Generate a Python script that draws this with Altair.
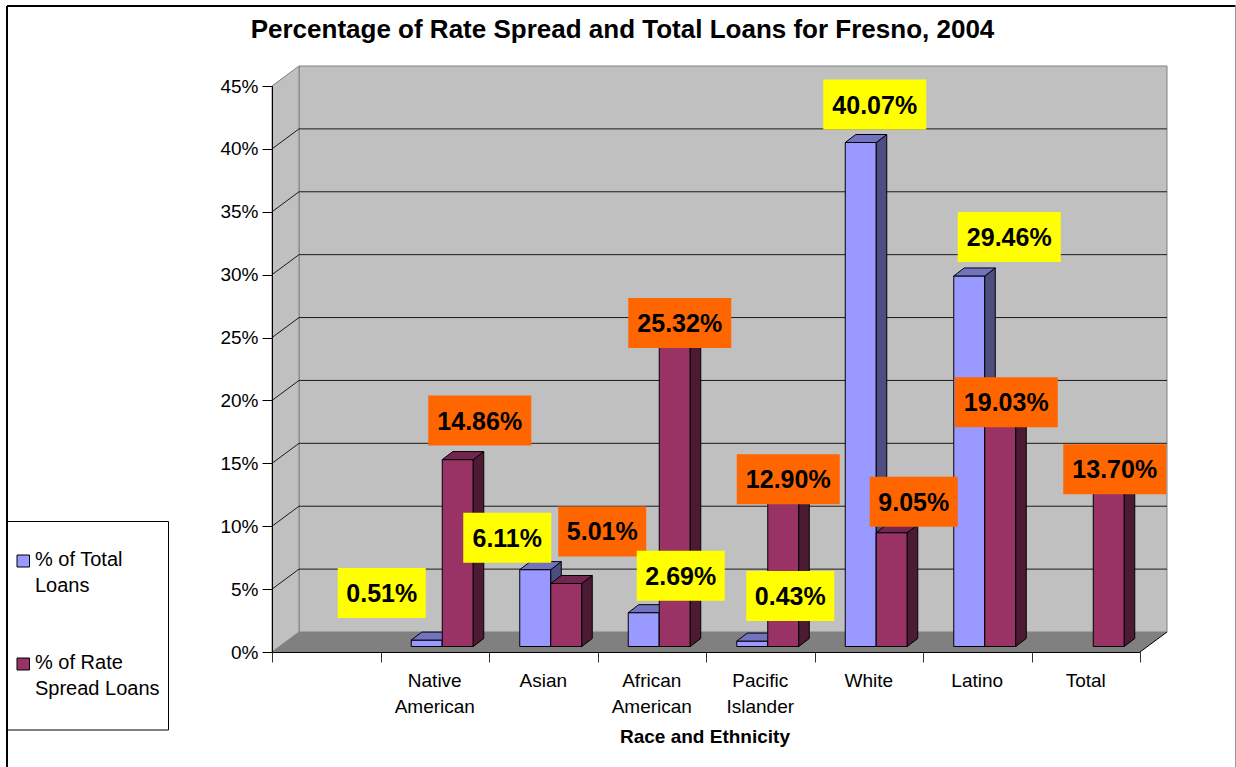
import altair as alt
import pandas as pd

# ---------------- data ----------------
categories = ["", "Native American", "Asian", "African American",
              "Pacific Islander", "White", "Latino", "Total"]
series_names = ["% of Total\nLoans", "% of Rate\nSpread Loans"]
total_loans = [None, 0.51, 6.11, 2.69, 0.43, 40.07, 29.46, None]
rate_spread = [None, 14.86, 5.01, 25.32, 12.90, 9.05, 19.03, 13.70]
y_ticks = [0, 5, 10, 15, 20, 25, 30, 35, 40, 45]
title_text = "Percentage of Rate Spread and Total Loans for Fresno, 2004"
x_title = "Race and Ethnicity"

# ---------------- styles / geometry ----------------
FONT = "Liberation Sans"
W, H = 868, 566
YMAX = 45
NCAT = len(categories)
U = W / NCAT        # px per category unit
PY = H / YMAX       # px per percent


def ux(px):
    return px / U


def uy(px):
    return px / PY


WALL_DX, WALL_DY = ux(27), uy(20)
BAR_W = 1 / 3.5
GAP = 0.75 * BAR_W
SHIFT_X, SHIFT_Y = ux(7.5), uy(5.5)
DEP_X, DEP_Y = ux(10.5), uy(8)

front_cols = ["#9999FF", "#993366"]
side_cols = ["#4D4D80", "#4D1A33"]
top_cols = ["#7373BF", "#732650"]
box_cols = ["#FFFF00", "#FF6600"]

# label centre offset (px) from bar top-front centre
label_nudge = [
    [None, (-45, -47), (-28, -32), (37, -37), (38, -45), (14, -38), (40, -39), None],
    [None, (22, -39), (36, -52), (5, -5), (5, -5), (22, -31), (6, -5), (6, -5)],
]

# ---------------- derived tables ----------------
bar_rows, side_rows, top_rows, lab_rows = [], [], [], []
for s, vals in enumerate([total_loans, rate_spread]):
    for i, v in enumerate(vals):
        if v is None:
            continue
        key = f"{s}-{i}"
        xl = i + GAP + s * BAR_W + SHIFT_X
        xr = xl + BAR_W
        yb = SHIFT_Y
        yt = v + SHIFT_Y
        bar_rows.append(dict(s=s, key=key, xl=xl, xr=xr, yb=yb, yt=yt))
        side_rows.append(dict(s=s, key=key, x=xr, lo=yb, hi=yt))
        side_rows.append(dict(s=s, key=key, x=xr + DEP_X, lo=yb + DEP_Y, hi=yt + DEP_Y))
        top_rows.append(dict(s=s, key=key, y=yt, x1=xl, x2=xr))
        top_rows.append(dict(s=s, key=key, y=yt + DEP_Y, x1=xl + DEP_X, x2=xr + DEP_X))
        dx, dy = label_nudge[s][i]
        lx = (xl + xr) / 2 + ux(dx)
        ly = yt - uy(dy)
        hw = 51.5 if v >= 10 else 44
        lab_rows.append(dict(s=s, text=f"{v:.2f}%", lx=lx, ly=ly,
                             bx1=lx - ux(hw), bx2=lx + ux(hw),
                             by1=ly - uy(25), by2=ly + uy(25)))
bars = pd.DataFrame(bar_rows)
sides = pd.DataFrame(side_rows)
tops = pd.DataFrame(top_rows)
labs = pd.DataFrame(lab_rows)

xs = alt.Scale(domain=[0, NCAT], nice=False, zero=False)
ys = alt.Scale(domain=[0, YMAX], nice=False, zero=False)

AX_X = alt.Axis(values=list(range(NCAT + 1)), labels=False, tickSize=10,
                domainColor="black", tickColor="#333333", grid=False,
                title=None, zindex=1, domainWidth=1)
AX_Y = alt.Axis(values=y_ticks, tickSize=10, labelExpr="datum.value + '%'",
                labelFont=FONT, labelFontSize=19, labelColor="black", labelPadding=4,
                domainColor="black", tickColor="black", grid=False, title=None, zindex=1)


def X(f):
    return alt.X(f, type="quantitative", scale=xs, axis=AX_X, stack=None)


def Y(f):
    return alt.Y(f, type="quantitative", scale=ys, axis=AX_Y, stack=None)


layers = []

# back wall
wall = pd.DataFrame([dict(x1=WALL_DX, x2=NCAT + WALL_DX, y1=WALL_DY, y2=YMAX + WALL_DY)])
layers.append(alt.Chart(wall).mark_rect(fill="#C0C0C0", stroke="#808080", strokeWidth=1)
              .encode(x=X("x1"), x2="x2", y=Y("y1"), y2="y2"))

# left wall
lw = pd.DataFrame([dict(x=0.0, lo=0.0, hi=YMAX), dict(x=WALL_DX, lo=WALL_DY, hi=YMAX + WALL_DY)])
layers.append(alt.Chart(lw).mark_area(orient="vertical", fill="#C0C0C0", stroke="#808080",
                                      strokeWidth=1)
              .encode(x=X("x"), y=Y("lo"), y2="hi"))

# grid lines on back wall and left wall
grid = pd.DataFrame([dict(t=t, tb=t + WALL_DY, xa=0.0, xb=WALL_DX, xc=NCAT + WALL_DX)
                     for t in y_ticks[1:-1]])
layers.append(alt.Chart(grid).mark_rule(color="#1a1a1a", strokeWidth=1)
              .encode(x=X("xb"), x2="xc", y=Y("tb"), y2="tb"))
layers.append(alt.Chart(grid).mark_rule(color="#1a1a1a", strokeWidth=1)
              .encode(x=X("xa"), x2="xb", y=Y("t"), y2="tb"))

# floor
fl = pd.DataFrame([dict(y=0.0, x1=0.0, x2=float(NCAT)),
                   dict(y=WALL_DY, x1=WALL_DX, x2=NCAT + WALL_DX)])
layers.append(alt.Chart(fl).mark_area(orient="horizontal", fill="#808080", strokeWidth=0)
              .encode(y=Y("y"), x=X("x1"), x2="x2"))
fr = pd.DataFrame([dict(x1=float(NCAT), x2=NCAT + WALL_DX, y1=0.0, y2=WALL_DY)])
layers.append(alt.Chart(fr).mark_rule(color="black", strokeWidth=1)
              .encode(x=X("x1"), x2="x2", y=Y("y1"), y2="y2"))

# bars: per series front, side, top
for s in [0, 1]:
    layers.append(alt.Chart(bars[bars.s == s]).mark_rect(fill=front_cols[s], stroke="black",
                                                        strokeWidth=1)
                  .encode(x=X("xl"), x2="xr", y=Y("yb"), y2="yt"))
    layers.append(alt.Chart(sides[sides.s == s]).mark_area(orient="vertical", fill=side_cols[s],
                                                          stroke="black", strokeWidth=1)
                  .encode(x=X("x"), y=Y("lo"), y2="hi", detail="key:N"))
    layers.append(alt.Chart(tops[tops.s == s]).mark_area(orient="horizontal", fill=top_cols[s],
                                                        stroke="black", strokeWidth=1)
                  .encode(y=Y("y"), x=X("x1"), x2="x2", detail="key:N"))

# data labels (orange first, yellow on top)
for s in [1, 0]:
    d = labs[labs.s == s]
    layers.append(alt.Chart(d).mark_rect(fill=box_cols[s], strokeWidth=0)
                  .encode(x=X("bx1"), x2="bx2", y=Y("by1"), y2="by2"))
    layers.append(alt.Chart(d).mark_text(font=FONT, fontSize=25, fontWeight="bold",
                                         color="black", align="center", baseline="middle", dy=1)
                  .encode(x=X("lx"), y=Y("ly"), text="text:N"))

# category labels
cats = pd.DataFrame({"name": categories, "c": [i + 0.5 for i in range(NCAT)]})
layers.append(alt.Chart(cats).mark_text(font=FONT, fontSize=19, color="black", align="center",
                                        baseline="alphabetic", lineBreak=" ", lineHeight=26)
              .encode(x=X("c"), y=alt.value(600.5), text="name:N"))

# axis title & chart title
layers.append(alt.Chart(pd.DataFrame({"t": [x_title]})).mark_text(
    font=FONT, fontSize=19, fontWeight="bold", color="black", align="center", baseline="alphabetic")
    .encode(x=alt.value(433), y=alt.value(656.5), text="t:N"))
layers.append(alt.Chart(pd.DataFrame({"t": [title_text]})).mark_text(
    font=FONT, fontSize=26, fontWeight="bold", color="black", align="center", baseline="alphabetic")
    .encode(x=alt.value(350.5), y=alt.value(-48.5), text="t:N"))

# legend
one = pd.DataFrame({"a": [0]})
layers.append(alt.Chart(one).mark_rect(fill="white", stroke="black", strokeWidth=1)
              .encode(x=alt.value(-264.5), x2=alt.value(-103.5), y=alt.value(435.5), y2=alt.value(644)))
for s, (sq_y, txt_y) in enumerate([(469, 480), (572, 583)]):
    layers.append(alt.Chart(one).mark_rect(fill=front_cols[s], stroke="black", strokeWidth=1)
                  .encode(x=alt.value(-255), x2=alt.value(-242.5), y=alt.value(sq_y),
                          y2=alt.value(sq_y + 12)))
    layers.append(alt.Chart(pd.DataFrame({"t": [series_names[s]]})).mark_text(
        font=FONT, fontSize=20, color="black", align="left", baseline="alphabetic",
        lineBreak="\n", lineHeight=26)
        .encode(x=alt.value(-237), y=alt.value(txt_y), text="t:N"))

# outer frame
layers.append(alt.Chart(one).mark_rule(color="black", strokeWidth=2)
              .encode(x=alt.value(-265), y=alt.value(-80), y2=alt.value(700)))
layers.append(alt.Chart(one).mark_rule(color="black", strokeWidth=2)
              .encode(x=alt.value(-265), x2=alt.value(963.5), y=alt.value(-80)))
layers.append(alt.Chart(one).mark_rule(color="#999999", strokeWidth=1)
              .encode(x=alt.value(963.5), y=alt.value(-80), y2=alt.value(700)))

chart = alt.layer(*layers).properties(
    width=W, height=H,
    autosize=alt.AutoSizeParams(type="none"),
    padding={"left": 272, "top": 86, "right": 96, "bottom": 115},
    background="white",
).configure_view(stroke=None)

chart.save("out.html", embed_options={"renderer": "svg", "actions": False})
